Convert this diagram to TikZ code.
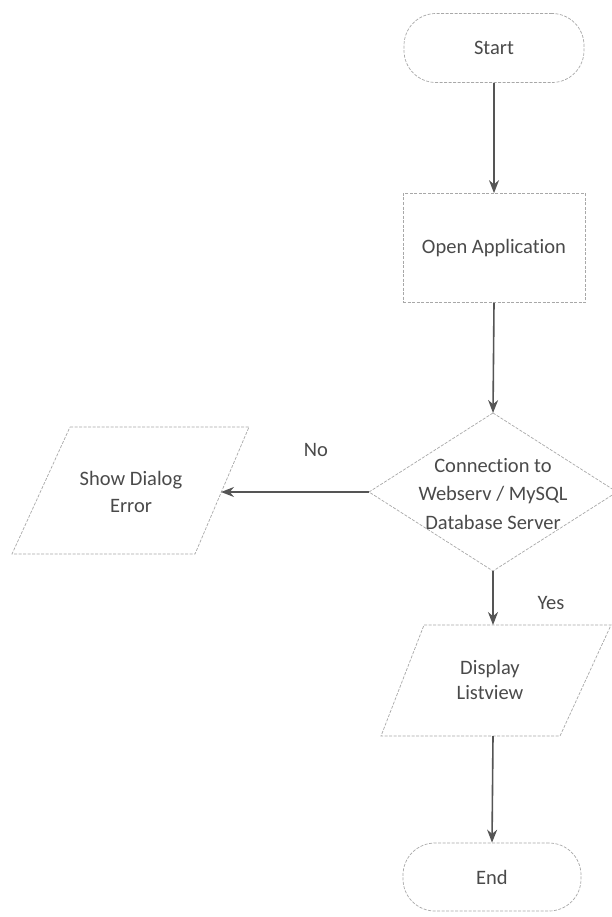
\documentclass[tikz,border=0pt]{standalone}
\usepackage{fontspec}
\setmainfont{Carlito}[Ligatures=NoCommon]
\usetikzlibrary{shapes.geometric,arrows.meta}
\definecolor{txt}{HTML}{4A4A4A}
\definecolor{edge}{HTML}{A8A8A8}
\definecolor{arr}{HTML}{555555}
\tikzset{
  outline/.style={draw=edge, line width=0.7pt, dash pattern=on 3pt off 1.5pt},
  lbl/.style={text=txt, font=\fontsize{20.5}{27}\selectfont, align=center},
  termbox/.style={outline, lbl, rounded corners=32pt, minimum width=180pt, minimum height=69pt, inner sep=0pt},
  procbox/.style={outline, lbl, minimum width=182pt, minimum height=109pt, inner sep=0pt},
  flow/.style={draw=arr, line width=1.6pt, -{Stealth[length=13pt,width=10pt]}},
}
\begin{document}
\begin{tikzpicture}[x=1pt,y=-1pt]
\useasboundingbox (0,0) rectangle (612,917);
\fill[white] (0,0) rectangle (612,917);

\node[termbox] (start) at (494,48) {Start};
\node[procbox] (open) at (494,248) {Open Application};

% Decision diamond
\coordinate (decN) at (493,413);
\coordinate (decW) at (369,492);
\coordinate (decS) at (493,571);
\coordinate (decE) at (617,492);
\draw[outline] (decN) -- (decE) -- (decS) -- (decW) -- cycle;
\node[lbl, font=\fontsize{20.5}{28.5}\selectfont] (dec) at (493,494) {Connection to\\Webserv / MySQL\\Database Server};

% Show Dialog Error parallelogram
\draw[outline] (70,427) -- (249,427) -- (195,554) -- (12,554) -- cycle;
\node[lbl] (err) at (131,492) {Show Dialog\\Error};
\coordinate (errE) at (221,492);

% Display Listview parallelogram
\draw[outline] (424,625) -- (611,625) -- (560,736) -- (381,736) -- cycle;
\node[lbl, font=\fontsize{20.5}{25}\selectfont] (disp) at (490,680) {Display\\Listview};
\coordinate (dispN) at (493,625);
\coordinate (dispS) at (493,736);

\node[termbox, minimum width=178pt, minimum height=68pt] (end) at (492,877) {End};

\draw[flow] (start.south) -- (open.north);
\draw[flow] (open.south) -- (decN);
\draw[flow] (decW) -- (errE);
\draw[flow] (decS) -- (dispN);
\draw[flow] (dispS) -- (end.north);

\node[lbl] (no) at (316,450) {No};
\node[lbl] (yes) at (551,603) {Yes};
\end{tikzpicture}
\end{document}
